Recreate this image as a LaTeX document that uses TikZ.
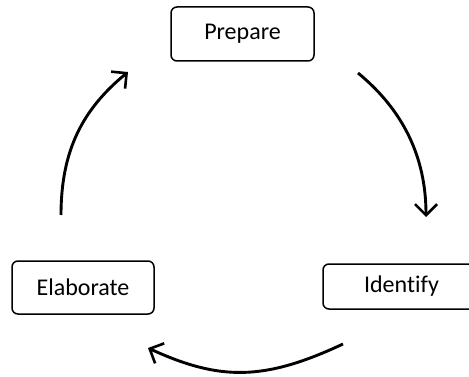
\documentclass[tikz,border=0pt]{standalone}
\usepackage{fontspec}
\setmainfont{Carlito}[Ligatures=NoCommon]
\usetikzlibrary{arrows.meta}
\begin{document}
\begin{tikzpicture}[
        x=1pt, y=-1pt,
        stage/.style={rectangle, draw, rounded corners=6pt, line width=1.5pt, minimum height=54pt, align=center, font=\fontsize{24}{28}\selectfont, fill=white},
        arrow/.style={-{Straight Barb[length=11pt, width=22pt, line width=2.6pt]}, line width=2.9pt}
    ]
        \useasboundingbox (0,0) rectangle (469,377);

        % Stages
        \node[stage, minimum width=143pt] (prep) at (242.5,34) {Prepare};
        \node[stage, minimum width=157pt, minimum height=45pt] (ident) at (401.5,286.5) {Identify};
        \node[stage, minimum width=142pt, minimum height=53pt] (elab) at (83,287.5) {Elaborate};

        % Arrow ends
        \coordinate (r1) at (358,73);
        \coordinate (r2) at (426,217);
        \coordinate (b1) at (343,344);
        \coordinate (b2) at (148,348);
        \coordinate (l1) at (61,215);
        \coordinate (l2) at (128,72);

        % Cycle arrows
        \draw[arrow] (r1) .. controls (403,110) and (426,157) .. (r2);
        \draw[arrow] (b1) .. controls (264,381) and (220,381) .. (b2);
        \draw[arrow] (l1) .. controls (61,150) and (83,109) .. (l2);

    \end{tikzpicture}
\end{document}
